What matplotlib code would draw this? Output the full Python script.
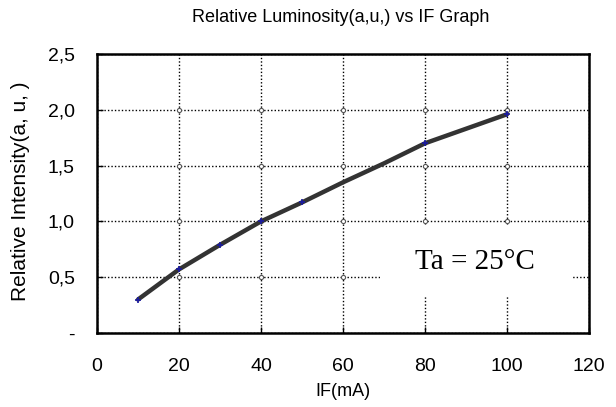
import numpy as np
import matplotlib
matplotlib.use('Agg')
import matplotlib.pyplot as plt
from matplotlib.patches import Rectangle

# values
if_ma = [10, 20, 30, 40, 50, 60, 70, 80, 90, 100]
rel_int = [0.30, 0.57, 0.79, 1.00, 1.17, 1.35, 1.52, 1.70, 1.83, 1.96]
marked_if = [10, 20, 30, 40, 50, 80, 100]
marked_val = [0.30, 0.57, 0.79, 1.00, 1.17, 1.70, 1.96]
xticks = [0, 20, 40, 60, 80, 100, 120]
yticks = [0, 0.5, 1.0, 1.5, 2.0, 2.5]
ytick_labels = ['-', '0,5', '1,0', '1,5', '2,0', '2,5']

sans = ['Liberation Sans', 'DejaVu Sans']

fig = plt.figure(figsize=(6.16, 4.07), dpi=100)
ax = fig.add_axes([97/616, 1-333/407, (589-97)/616, (333-54)/407])

ax.plot(if_ma, rel_int, color='#333333', lw=3.2, solid_capstyle='round', zorder=3)
ax.plot(marked_if, marked_val, '+', color='#1a1aa0', ms=4, mew=1.2, zorder=4)

ax.set_xlim(0, 120)
ax.set_ylim(0, 2.5)
ax.set_xticks(xticks)
ax.set_yticks(yticks)
ax.set_xticklabels([str(v) for v in xticks], family=sans, fontsize=14)
ax.set_yticklabels(ytick_labels, family=sans, fontsize=14)
ax.tick_params(direction='in', length=4, width=1)
ax.tick_params(axis='x', pad=18)
ax.tick_params(axis='y', pad=16)
ax.grid(True, color='black', ls=(0, (1, 1.5)), lw=1)

# little open circles where the grid lines cross
gx, gy = np.meshgrid(xticks[1:-1], yticks[1:-1])
ax.plot(gx.ravel(), gy.ravel(), 'o', ms=3, mfc='white', mec='#555555', mew=0.8, zorder=2)

for s in ax.spines.values():
    s.set_linewidth(1.8)

fig.text(341/616, 1-17/407, 'Relative Luminosity(a,u,) vs IF Graph', family=sans,
         fontsize=13, ha='center', va='center')
ax.set_xlabel('IF(mA)', family=sans, fontsize=13)
ax.xaxis.set_label_coords((343-97)/492, -(383-333)/279)
ax.set_ylabel('Relative Intensity(a, u, )', family=sans, fontsize=15)
ax.yaxis.set_label_coords(-(97-30)/492, (333-191)/279)

ax.add_patch(Rectangle((0.575, 0.129), 0.392, 0.258, transform=ax.transAxes,
                       fc='white', ec='none', zorder=5))
ax.text((475-97)/492, (333-262)/279, 'Ta = 25°C', transform=ax.transAxes,
        ha='center', va='center', family=['Liberation Serif', 'DejaVu Serif'],
        fontsize=21, zorder=6)

fig.savefig('out.png', dpi=100)
